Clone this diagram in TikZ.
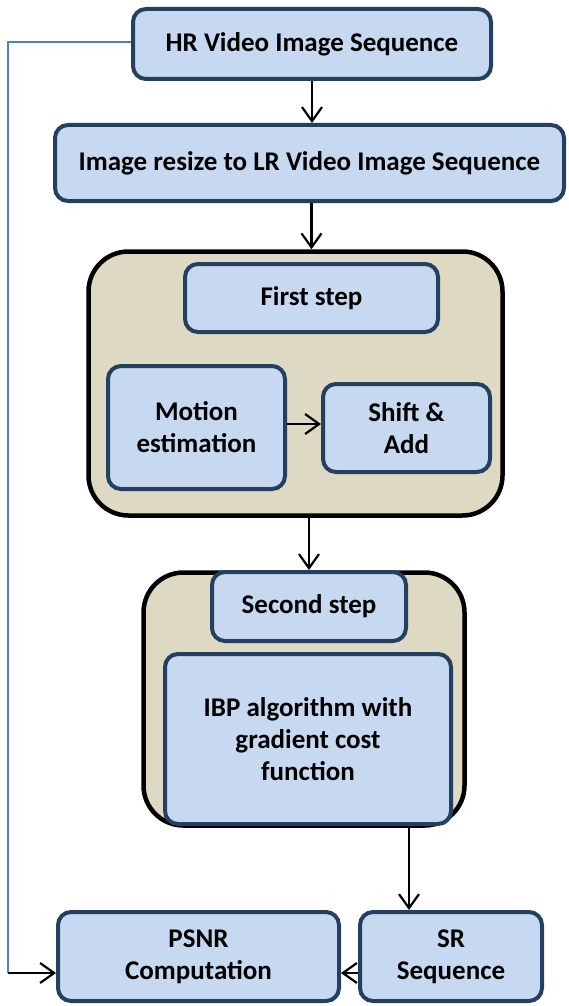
\documentclass[tikz,border=0pt]{standalone}
\usepackage{fontspec}
\setmainfont{Carlito}
\usetikzlibrary{arrows.meta}
\definecolor{boxfill}{HTML}{C6D9F1}
\definecolor{boxline}{HTML}{243F60}
\definecolor{tanfill}{HTML}{DDD9C3}
\definecolor{blueline}{HTML}{4F81BD}
\begin{document}
\begin{tikzpicture}[x=1pt,y=-1pt,
  bluebox/.style={draw=boxline, fill=boxfill, line width=4pt, rounded corners=13pt,
    align=center, inner sep=0pt, font=\fontsize{27}{32}\selectfont\bfseries},
  groupbox/.style={draw=black, fill=tanfill, line width=4.5pt, rounded corners=40pt, inner sep=0pt},
  arr/.style={-{Straight Barb[length=14pt,width=20pt,line width=2.2pt]}, line width=2.2pt}]
\useasboundingbox (0,0) rectangle (569,1006);
\node[bluebox, minimum width=358pt, minimum height=70pt] (hr) at (312,44) {HR Video Image Sequence};
\node[bluebox, minimum width=509pt, minimum height=76pt] (resize) at (309.5,163) {Image resize to LR Video Image Sequence};
\node[groupbox, minimum width=414pt, minimum height=264pt] (first) at (295.5,383.5) {};
\node[bluebox, minimum width=253pt, minimum height=68pt] (firststep) at (311.5,298) {First step};
\node[bluebox, minimum width=177pt, minimum height=123pt] (motion) at (196.5,427.5) {Motion\\estimation};
\node[bluebox, minimum width=167pt, minimum height=88pt] (shift) at (406.5,428) {Shift \&\\Add};
\node[groupbox, minimum width=321pt, minimum height=253pt] (second) at (304,699) {};
\node[bluebox, minimum width=194pt, minimum height=69pt] (secondstep) at (309,606.5) {Second step};
\node[bluebox, minimum width=286pt, minimum height=170pt] (ibp) at (308,739) {IBP algorithm with\\gradient cost\\function};
\node[bluebox, minimum width=281pt, minimum height=89pt] (psnr) at (198.5,956.5) {PSNR\\Computation};
\node[bluebox, minimum width=182pt, minimum height=89pt] (sr) at (451,956.5) {SR\\Sequence};
\coordinate (tl) at (8,42);
\coordinate (bl) at (8,973);
\coordinate (ibpout) at (409,826);
\draw[arr] (hr.south) -- (hr.south |- resize.north);
\draw[arr] (resize.south -| firststep.north) -- (firststep.north |- first.north);
\draw[arr] (first.south -| secondstep.north) -- (secondstep.north);
\draw[arr] (motion.east |- 0,424) -- (shift.west |- 0,424);
\draw[arr] (ibpout) -- (ibpout |- sr.north);
\draw[arr] (sr.west |- bl) -- (psnr.east |- bl);
\draw[blueline, line width=1.5pt] (hr.west |- tl) -- (tl) -- (bl);
\draw[arr] (bl) -- (psnr.west |- bl);
\end{tikzpicture}
\end{document}
